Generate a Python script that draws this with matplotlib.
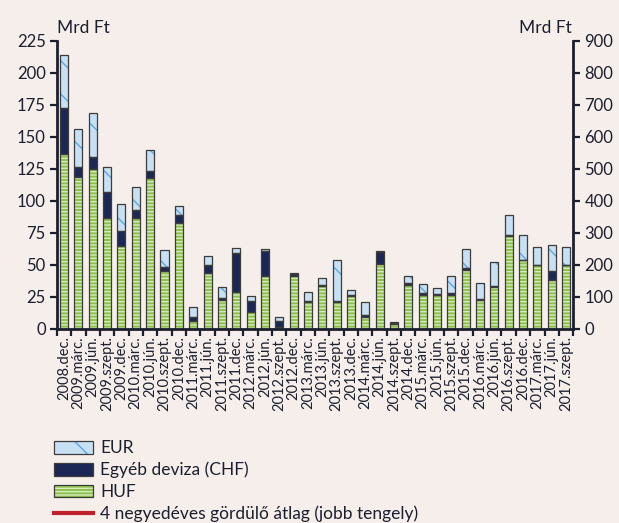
import matplotlib
matplotlib.use("Agg")
import matplotlib.pyplot as plt
from matplotlib.patches import Patch
from matplotlib.lines import Line2D
from matplotlib.legend_handler import HandlerTuple
import numpy as np

plt.rcParams['font.family'] = ['Lato', 'DejaVu Sans']
plt.rcParams['hatch.linewidth'] = 1.0

quarters = ['2008.dec.',
            '2009.márc.', '2009.jún.', '2009.szept.', '2009.dec.',
            '2010.márc.', '2010.jún.', '2010.szept.', '2010.dec.',
            '2011.márc.', '2011.jún.', '2011.szept.', '2011.dec.',
            '2012.márc.', '2012.jún.', '2012.szept.', '2012.dec.',
            '2013.márc.', '2013.jún.', '2013.szept.', '2013.dec.',
            '2014.márc.', '2014.jún.', '2014.szept.', '2014.dec.',
            '2015.márc.', '2015.jún.', '2015.szept.', '2015.dec.',
            '2016.márc.', '2016.jún.', '2016.szept.', '2016.dec.',
            '2017.márc.', '2017.jún.', '2017.szept.']

huf = [137, 119, 125, 87, 65, 87, 118, 45.5, 83, 6.5, 44, 22.6, 29, 13,
       41.6, 1.8, 41.5, 21, 33.3, 21, 25.8, 9.4, 50.8, 3.9, 34.6, 26.8,
       26.8, 26.6, 46.4, 22.9, 32.6, 72.9, 53.6, 49.7, 38.5, 49.7]
chf = [35.4, 7.3, 9.2, 20, 11.4, 6, 5, 2.5, 6, 2.5, 6, 1.4, 30, 9,
       19.4, 4.7, 1.5, 1, 1.3, 0.5, 0.8, 1.8, 9.1, 1, 1.1, 1.1,
       0.5, 1.3, 1.5, 0.5, 1, 0.5, 0.6, 0.6, 6.5, 0.6]
eur = [41.6, 30.2, 34.6, 19.3, 21, 18.2, 17, 14, 7, 8, 7, 9, 4.5, 4,
       1.5, 3.1, 1, 6.5, 5, 32.6, 3.6, 9.6, 0.8, 0.8, 5.7, 7,
       4.7, 13.5, 14.3, 12.3, 19, 15.6, 19, 14, 20.9, 14]

bg = '#f5eeeb'
axis_col = '#1c1f2e'
edge_col = '#3c3c3c'
huf_face, huf_hatch = '#8dc04c', '#d6ebbd'
chf_face = '#1b2856'
eur_face, eur_hatch = '#c7e0f3', '#5ca8de'

fig = plt.figure(figsize=(6.19, 5.23), dpi=100, facecolor=bg)
ax = fig.add_axes([0.092, 0.371, 0.834, 0.551])
ax.set_facecolor(bg)

x = np.arange(len(quarters))
w = 0.56
huf = np.array(huf)
chf = np.array(chf)
eur = np.array(eur)

# filled + hatched segments, hatch colour taken from the edge colour
ax.bar(x, huf, w, color=huf_face, edgecolor=huf_hatch, hatch='-----', linewidth=0)
ax.bar(x, chf, w, bottom=huf, color=chf_face, linewidth=0)
ax.bar(x, eur, w, bottom=huf + chf, color=eur_face, edgecolor=eur_hatch, hatch='\\', linewidth=0)
# outlines
for vals, bot in [(huf, 0), (chf, huf), (eur, huf + chf)]:
    ax.bar(x, vals, w, bottom=bot, fill=False, edgecolor=edge_col, linewidth=0.9)

ax.set_xlim(-0.5, len(quarters) - 0.5)
ax.set_ylim(0, 225)
ax.set_yticks(np.arange(0, 226, 25))

ax.set_xticks(x)
ax.set_xticklabels(quarters, rotation=90, fontsize=10.5, color=axis_col)
ax.set_xticks(np.arange(-0.5, len(quarters), 1), minor=True)
ax.tick_params(axis='x', which='major', length=0, pad=5)
ax.tick_params(axis='x', which='minor', length=5, width=1.6, color=axis_col, direction='out')
ax.tick_params(axis='y', length=5, width=1.6, color=axis_col, labelsize=12,
               labelcolor=axis_col, pad=3)

for s in ['top', 'right']:
    ax.spines[s].set_visible(False)
for s in ['left', 'bottom']:
    ax.spines[s].set_color(axis_col)
    ax.spines[s].set_linewidth(2)

ax2 = ax.twinx()
ax2.set_ylim(0, 900)
ax2.set_yticks(np.arange(0, 901, 100))
ax2.tick_params(axis='y', length=5, width=1.6, color=axis_col, labelsize=12,
                labelcolor=axis_col, pad=3)
for s in ['top', 'left', 'bottom']:
    ax2.spines[s].set_visible(False)
ax2.spines['right'].set_color(axis_col)
ax2.spines['right'].set_linewidth(2)

fig.text(0.092, 0.937, 'Mrd Ft', fontsize=12.5, color=axis_col, ha='left', va='baseline')
fig.text(0.924, 0.937, 'Mrd Ft', fontsize=12.5, color=axis_col, ha='right', va='baseline')


def legend_patch(face, hatch_col=None, hatch=None):
    outline = Patch(facecolor='none', edgecolor=edge_col, linewidth=0.9)
    if hatch is None:
        return (Patch(facecolor=face, linewidth=0), outline)
    return (Patch(facecolor=face, edgecolor=hatch_col, hatch=hatch, linewidth=0), outline)


handles = [legend_patch(eur_face, eur_hatch, '\\'),
           legend_patch(chf_face),
           legend_patch(huf_face, huf_hatch, '-----'),
           Line2D([0], [0], color='#c0202a', linewidth=3)]
labels = ['EUR', 'Egyéb deviza (CHF)', 'HUF', '4 negyedéves gördülő átlag (jobb tengely)']
leg = fig.legend(handles, labels, loc='upper left', bbox_to_anchor=(0.088, 0.158),
                 frameon=False, fontsize=12.5, handlelength=2.2, handleheight=0.75,
                 handletextpad=0.45, labelspacing=0.32, borderpad=0, borderaxespad=0,
                 handler_map={tuple: HandlerTuple(ndivide=1, pad=0)})
for t in leg.get_texts():
    t.set_color(axis_col)

fig.savefig('out.png', dpi=100, facecolor=bg)
